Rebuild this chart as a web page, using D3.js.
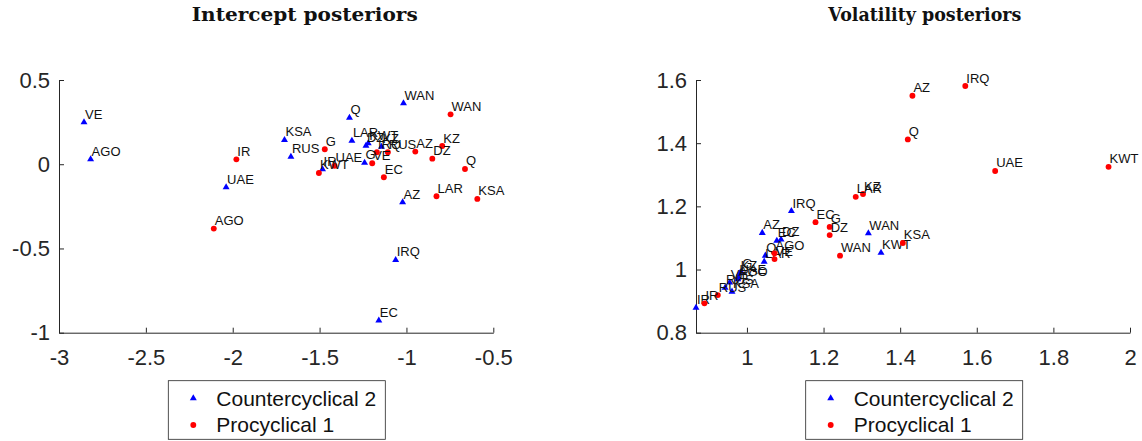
<!DOCTYPE html>
<html>
<head>
<meta charset="utf-8">
<script src="https://cdn.jsdelivr.net/npm/d3@7"></script>
<style>
  body { margin: 0; background: #fff; }
  text { font-family: "Liberation Sans", Arial, sans-serif; }
</style>
</head>
<body>
<div id="chart"></div>
<script>
// country labels (same order for every series)
var countries = ["AGO", "AZ", "DZ", "EC", "G", "IR", "IRQ", "KSA", "KWT", "KZ", "LAR", "Q", "RUS", "UAE", "VE", "WAN"];

// intercept posteriors
var interceptCounterX = [-2.818, -1.022, -1.233, -1.159, -1.241, -1.483, -1.062, -1.702, -1.22, -1.144, -1.314, -1.328, -1.665, -2.038, -2.856, -1.017];
var interceptCounterY = [0.029, -0.226, 0.11, -0.928, 0.009, -0.03, -0.568, 0.144, 0.125, 0.104, 0.14, 0.276, 0.045, -0.137, 0.249, 0.362];
var interceptProX = [-2.109, -0.949, -0.851, -1.13, -1.47, -1.979, -1.17, -0.592, -1.504, -0.794, -0.827, -0.663, -1.107, -1.414, -1.197, -0.746];
var interceptProY = [-0.382, 0.075, 0.033, -0.077, 0.089, 0.029, 0.071, -0.206, -0.052, 0.108, -0.19, -0.028, 0.071, -0.009, 0.006, 0.296];

// volatility posteriors
var volCounterX = [0.976, 1.04, 1.089, 1.078, 0.985, 0.867, 1.116, 0.961, 1.35, 0.981, 1.045, 1.048, 0.943, 0.978, 0.955, 1.317];
var volCounterY = [0.969, 1.116, 1.095, 1.091, 0.993, 0.879, 1.185, 0.93, 1.053, 0.988, 1.025, 1.044, 0.942, 0.975, 0.959, 1.115];
var volProX = [1.072, 1.432, 1.216, 1.179, 1.216, 0.889, 1.57, 1.407, 1.944, 1.303, 1.284, 1.42, 0.924, 1.648, 1.072, 1.243];
var volProY = [1.051, 1.55, 1.109, 1.15, 1.135, 0.893, 1.581, 1.084, 1.325, 1.239, 1.23, 1.412, 0.919, 1.312, 1.033, 1.044];

// axis ticks and legend
var interceptXTicks = [-3, -2.5, -2, -1.5, -1, -0.5];
var interceptYTicks = [-1, -0.5, 0, 0.5];
var volXTicks = [1, 1.2, 1.4, 1.6, 1.8, 2];
var volYTicks = [0.8, 1, 1.2, 1.4, 1.6];
var seriesNames = ["Countercyclical 2", "Procyclical 1"];

var W = 1142, H = 441;
var axisColor = "#262626";

var svg = d3.select("#chart").append("svg")
  .attr("width", W)
  .attr("height", H);

var triangle = d3.symbol().type(d3.symbolTriangle).size(21);
var circle = d3.symbol().type(d3.symbolCircle).size(27);

function panel(opts) {
  var x = d3.scaleLinear().domain(opts.xDomain).range([opts.left, opts.right]);
  var y = d3.scaleLinear().domain(opts.yDomain).range([332.7, 80]);

  // axes, ticks pointing inward like matlab
  var gx = svg.append("g")
    .attr("transform", "translate(0,332.7)")
    .call(d3.axisBottom(x).tickValues(opts.xTicks).tickSizeInner(-5).tickSizeOuter(0).tickPadding(16.5)
      .tickFormat(function (d) { return String(d); }));
  var gy = svg.append("g")
    .attr("transform", "translate(" + opts.left + ",0)")
    .call(d3.axisLeft(y).tickValues(opts.yTicks).tickSizeInner(-5).tickSizeOuter(0).tickPadding(9)
      .tickFormat(function (d) { return String(d); }));
  [gx, gy].forEach(function (g) {
    g.select(".domain").attr("stroke", axisColor);
    g.selectAll(".tick line").attr("stroke", axisColor);
    g.selectAll(".tick text")
      .attr("fill", axisColor)
      .style("font-size", "22px")
      .style("font-family", "'Liberation Sans', Arial, sans-serif");
  });

  // title
  svg.append("text")
    .attr("x", opts.titleX)
    .attr("y", 21)
    .attr("textLength", opts.titleW)
    .attr("lengthAdjust", "spacingAndGlyphs")
    .style("font-family", "'DejaVu Serif', serif")
    .style("font-weight", "bold")
    .style("font-size", "18px")
    .attr("fill", "#111")
    .text(opts.title);

  var series = [
    { xs: opts.cx, ys: opts.cy, sym: triangle, color: "blue" },
    { xs: opts.px, ys: opts.py, sym: circle, color: "red" }
  ];

  series.forEach(function (s) {
    var pts = countries.map(function (c, i) { return { name: c, x: s.xs[i], y: s.ys[i] }; });
    svg.append("g").selectAll("path")
      .data(pts)
      .enter()
      .append("path")
      .attr("d", s.sym)
      .attr("transform", function (d) { return "translate(" + x(d.x) + "," + y(d.y) + ")"; })
      .attr("fill", s.color);
    svg.append("g").selectAll("text")
      .data(pts)
      .enter()
      .append("text")
      .attr("x", function (d) { return x(d.x) + 1; })
      .attr("y", function (d) { return y(d.y) - 3.5; })
      .style("font-size", "13px")
      .attr("fill", "#111")
      .text(function (d) { return d.name; });
  });

  // legend
  var lg = svg.append("g").attr("transform", "translate(" + opts.legendX + ",380.7)");
  lg.append("rect")
    .attr("width", 217)
    .attr("height", 58.6)
    .attr("fill", "#fff")
    .attr("stroke", axisColor)
    .attr("stroke-width", 0.8);
  seriesNames.forEach(function (name, i) {
    var yy = 17.6 + i * 26.7;
    lg.append("path")
      .attr("d", i === 0 ? triangle : circle)
      .attr("transform", "translate(25," + yy + ")")
      .attr("fill", i === 0 ? "blue" : "red");
    lg.append("text")
      .attr("x", 48)
      .attr("y", yy)
      .attr("dy", "0.35em")
      .style("font-size", "21px")
      .attr("fill", "#111")
      .text(name);
  });
}

panel({
  left: 59, right: 493.3,
  xDomain: [-3, -0.5], yDomain: [-1, 0.5],
  xTicks: interceptXTicks, yTicks: interceptYTicks,
  cx: interceptCounterX, cy: interceptCounterY,
  px: interceptProX, py: interceptProY,
  title: "Intercept posteriors", titleX: 191.7, titleW: 226,
  legendX: 168.3
});

panel({
  left: 696, right: 1130,
  xDomain: [0.867, 2], yDomain: [0.8, 1.6],
  xTicks: volXTicks, yTicks: volYTicks,
  cx: volCounterX, cy: volCounterY,
  px: volProX, py: volProY,
  title: "Volatility posteriors", titleX: 828.3, titleW: 193,
  legendX: 805.7
});
</script>
</body>
</html>
